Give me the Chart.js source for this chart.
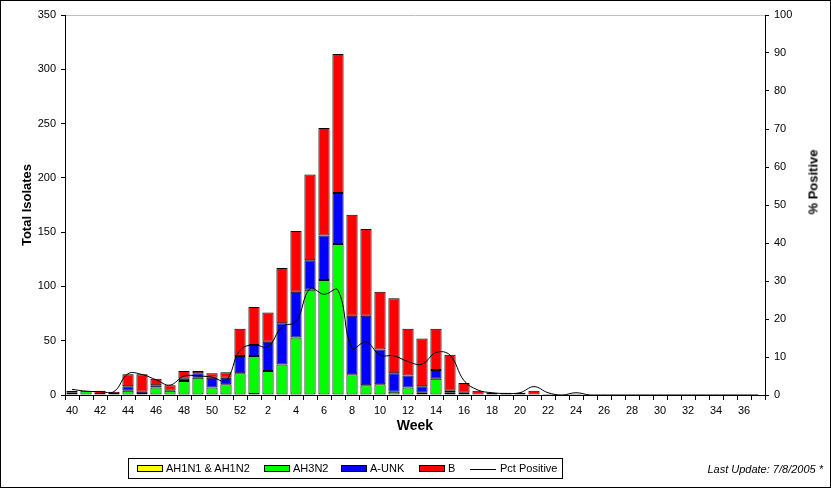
<!DOCTYPE html>
<html>
<head>
<meta charset="utf-8">
<script src="https://cdn.jsdelivr.net/npm/chart.js@4"></script>
<style>
  body { margin: 0; background: #fff; font-family: "Liberation Sans", Arial, sans-serif; }
  #wrap { position: relative; width: 831px; height: 488px; overflow: hidden; }
  #frame { position: absolute; left: 0; top: 0; width: 829px; height: 486px; border: 1px solid #000; pointer-events: none; }
  #rtitle { position: absolute; left: 813px; top: 182px; transform: translate(-50%, -50%) rotate(-90deg);
            font-weight: bold; font-size: 13px; white-space: nowrap; }
  #legend { position: absolute; left: 128px; top: 458px; width: 433px; height: 19px; border: 1px solid #000;
            font-size: 11px; }
  .item { position: absolute; top: 3px; height: 13px; line-height: 13px; white-space: nowrap; }
  .sw { display: inline-block; width: 24px; height: 5px; border: 1px solid #000; vertical-align: middle; margin-right: 3px; position: relative; top: -1px; }
  .ln { display: inline-block; width: 26px; height: 0; border-top: 1px solid #000; vertical-align: middle; margin-right: 4px; }
  #upd { position: absolute; right: 8px; top: 463px; font-size: 11px; font-style: italic; }
</style>
</head>
<body>
<div id="wrap">
  <canvas id="chart" width="831" height="488"></canvas>
  <div id="rtitle">% Positive</div>
  <div id="legend"></div>
  <div id="upd">Last Update: 7/8/2005 *</div>
  <div id="frame"></div>
</div>
<script>
// weeks 40..52 then 1..37
const weeks = ['40','41','42','43','44','45','46','47','48','49','50','51','52',
  '1','2','3','4','5','6','7','8','9','10','11','12','13','14','15','16','17','18','19','20',
  '21','22','23','24','25','26','27','28','29','30','31','32','33','34','35','36','37'];

const ah1 = [2,0,1,1,0,1,0,0,0,0,0,0,0,
  1,0,0,0,0,0,0,0,0,0,0,0,0,0,0,0,0,1,0,0,
  0,0,0,0,0,0,0,0,0,0,0,0,0,0,0,0,0];
const ah3 = [0,4,0,0,4,0,7,4,13,16,7,10,20,
  35,22,28,53,97,106,139,19,9,10,3,7,2,15,2,0,0,0,0,0,
  0,0,0,0,0,0,0,0,0,0,0,0,0,0,0,0,0];
const aunk = [2,0,0,0,4,2,2,0,2,4,9,6,16,
  10,27,38,42,27,41,47,54,64,32,17,11,6,8,2,2,0,0,0,0,
  0,0,0,0,0,0,0,0,0,0,0,0,0,0,0,0,0];
const fluB = [0,0,3,2,11,16,6,5,7,2,4,5,25,
  35,27,51,56,79,99,128,93,80,53,69,43,44,38,33,9,4,1,2,2,
  4,1,0,1,0,0,0,0,0,0,0,0,0,0,0,0,0];
const pctPos = [1.5,1,0.9,0.9,5.6,5.4,4,2.6,5,5,4.7,3.8,11.8,
  13.2,12.7,18,19.3,28,26.5,27.6,12.3,14,10.5,10.3,8.8,8.1,11.2,10.5,3.8,1.3,0.6,0.4,0.6,
  2.2,0.6,0,0.6,0,0,0,0,0,0,0,0,0,0,0,0,0];

const seriesNames = ['AH1N1 & AH1N2', 'AH3N2', 'A-UNK', 'B', 'Pct Positive'];
const seriesColors = ['#ffff00', '#00ff00', '#0000ff', '#ff0000', '#000000'];

Chart.defaults.font.family = '"Liberation Sans", Arial, sans-serif';
Chart.defaults.font.size = 11;
Chart.defaults.color = '#000';

function barSet(i, values) {
    return {
        type: 'bar',
        label: seriesNames[i],
        data: values,
        backgroundColor: seriesColors[i],
        borderColor: '#000',
        borderWidth: 1,
        borderSkipped: false,
        yAxisID: 'y',
        order: 1,
        categoryPercentage: 1,
        barPercentage: 0.8
    };
}

const ctx = document.getElementById('chart').getContext('2d');
const myChart = new Chart(ctx, {
    data: {
        labels: weeks,
        datasets: [
            barSet(0, ah1),
            barSet(1, ah3),
            barSet(2, aunk),
            barSet(3, fluB),
            {
                type: 'line',
                label: seriesNames[4],
                data: pctPos,
                borderColor: '#000',
                borderWidth: 1,
                pointRadius: 0,
                tension: 0.4,
                fill: false,
                yAxisID: 'y1',
                order: 0
            }
        ]
    },
    options: {
        responsive: false,
        animation: false,
        layout: { padding: { left: 0, right: 0, top: 15, bottom: 48 } },
        plugins: { legend: { display: false }, tooltip: { enabled: false } },
        scales: {
            x: {
                stacked: true,
                offset: true,
                grid: { offset: true, drawOnChartArea: false, color: '#000', tickLength: 5 },
                border: { color: '#000' },
                ticks: {
                    autoSkip: false, maxRotation: 0, padding: 4,
                    callback: function(value, index) { return index % 2 === 0 ? weeks[index] : ''; }
                },
                title: { display: true, text: 'Week', font: { size: 14, weight: 'bold' }, padding: { top: 0, bottom: 5 } },
                afterFit: function(scale) { scale.height = 45; }
            },
            y: {
                stacked: true,
                position: 'left',
                min: 0, max: 350,
                ticks: { stepSize: 50, padding: 5 },
                grid: {
                    color: function(c) { return c.tick && c.tick.value === 350 ? '#c0c0c0' : 'rgba(0,0,0,0)'; },
                    tickColor: '#000', tickLength: 4
                },
                border: { color: '#000' },
                title: { display: true, text: 'Total Isolates', font: { size: 13, weight: 'bold' }, padding: { top: 20 } },
                afterFit: function(scale) { scale.width = 65; }
            },
            y1: {
                position: 'right',
                min: 0, max: 100,
                ticks: { stepSize: 10, padding: 5 },
                grid: { drawOnChartArea: false, color: '#000', tickLength: 4 },
                border: { color: '#000' },
                afterFit: function(scale) { scale.width = 66; }
            }
        }
    }
});

// legend box
const legendPos = [8, 135, 212, 290, 341];
const legend = document.getElementById('legend');
seriesNames.forEach(function(name, i) {
    const item = document.createElement('div');
    item.className = 'item';
    item.style.left = legendPos[i] + 'px';
    const mark = document.createElement('span');
    if (i < 4) {
        mark.className = 'sw';
        mark.style.background = seriesColors[i];
    } else {
        mark.className = 'ln';
    }
    item.appendChild(mark);
    item.appendChild(document.createTextNode(name));
    legend.appendChild(item);
});
</script>
</body>
</html>
